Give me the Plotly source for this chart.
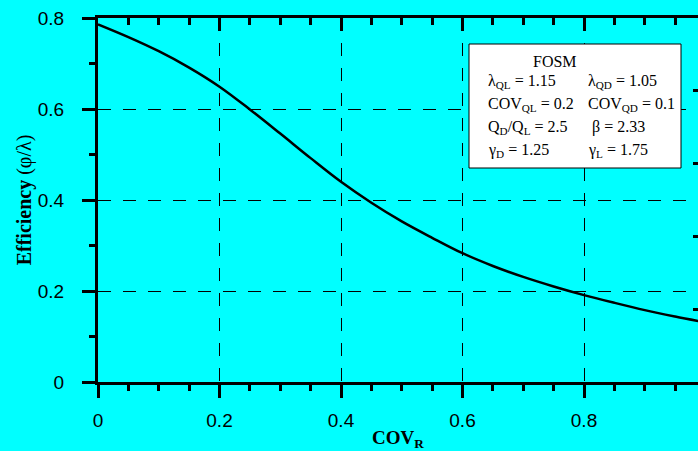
import plotly.graph_objects as go

# ---- data ----
cov_r = [0, 0.05, 0.1, 0.15, 0.2, 0.25, 0.3, 0.35, 0.4, 0.45, 0.5, 0.55,
         0.6, 0.65, 0.7, 0.75, 0.8, 0.85, 0.9, 0.95, 1.0]
efficiency = [0.786, 0.758, 0.727, 0.691, 0.649, 0.599, 0.546, 0.492, 0.440,
              0.394, 0.353, 0.317, 0.283, 0.255, 0.231, 0.210, 0.191, 0.174,
              0.158, 0.144, 0.131]

x_ticks = [0, 0.2, 0.4, 0.6, 0.8]
y_ticks = [0, 0.2, 0.4, 0.6, 0.8]
right_ticks = [0.16, 0.32, 0.48, 0.64]

box_title = "FOSM"
box_left = ["λ<sub>QL</sub> = 1.15", "COV<sub>QL</sub> = 0.2",
            "Q<sub>D</sub>/Q<sub>L</sub> = 2.5", "γ<sub>D</sub> = 1.25"]
box_right = ["λ<sub>QD</sub> = 1.05", "COV<sub>QD</sub> = 0.1",
             "β = 2.33", "γ<sub>L</sub> = 1.75"]

# ---- layout geometry ----
W, H = 698, 451
ML, MR, MT, MB = 98, 0, 18, 69
PW, PH = W - ML - MR, H - MT - MB
X_MAX = 600 / 607.5

def px(xpix):
    return (xpix - ML) / PW

def py(ypix):
    return (H - MB - ypix) / PH

CYAN = "#00FFFF"
TICKFONT = dict(family="Arial, Liberation Sans, sans-serif", size=19, color="black")
SERIF = "Times New Roman, Liberation Serif, serif"

fig = go.Figure()
fig.add_trace(go.Scatter(x=cov_r, y=efficiency, mode="lines",
                         line=dict(color="black", width=2.5, shape="spline", smoothing=1.0),
                         showlegend=False, hoverinfo="skip"))
# invisible trace to activate the extra axes
fig.add_trace(go.Scatter(x=[0], y=[0], xaxis="x2", yaxis="y2", mode="markers",
                         marker=dict(opacity=0), showlegend=False, hoverinfo="skip"))

fig.update_layout(
    width=W, height=H,
    margin=dict(l=ML, r=MR, t=MT, b=MB, pad=0),
    paper_bgcolor=CYAN, plot_bgcolor=CYAN,
    xaxis=dict(range=[0, X_MAX], tickvals=x_ticks, ticktext=["0", "0.2", "0.4", "0.6", "0.8"],
               ticks="outside", ticklen=13, tickwidth=3, tickcolor="black",
               minor=dict(dtick=0.05, tick0=0, ticks="outside", ticklen=6, tickwidth=3,
                          tickcolor="black", showgrid=False),
               showline=True, linewidth=3, linecolor="black",
               showgrid=True, gridcolor="black", gridwidth=1, griddash="13px,12px",
               zeroline=False, tickfont=TICKFONT, ticklabelstandoff=6,
               title=dict(text="<b>COV<sub>R</sub></b>",
                          font=dict(family=SERIF, size=19, color="black"), standoff=4)),
    xaxis2=dict(range=[0, X_MAX], overlaying="x", side="top", anchor="y",
                tickvals=x_ticks, ticks="inside", ticklen=13, tickwidth=3, tickcolor="black",
                minor=dict(dtick=0.05, tick0=0, ticks="inside", ticklen=7, tickwidth=3,
                           tickcolor="black", showgrid=False),
                showline=True, linewidth=3, linecolor="black",
                showticklabels=False, showgrid=False, zeroline=False),
    yaxis=dict(range=[0, 0.8], tickvals=y_ticks, ticktext=["0", "0.2", "0.4", "0.6", "0.8"],
               ticks="outside", ticklen=13, tickwidth=3, tickcolor="black",
               minor=dict(dtick=0.1, tick0=0, ticks="outside", ticklen=6, tickwidth=3,
                          tickcolor="black", showgrid=False),
               showline=True, linewidth=3, linecolor="black",
               showgrid=True, gridcolor="black", gridwidth=1, griddash="13px,12px",
               zeroline=False, tickfont=TICKFONT, ticklabelstandoff=14,
               title=dict(text="<b>Efficiency</b> (φ/λ)",
                          font=dict(family=SERIF, size=20, color="black"), standoff=1)),
    yaxis2=dict(range=[0, 0.8], overlaying="y", side="right", anchor="x",
                tickvals=right_ticks, ticks="inside", ticklen=5, tickwidth=3,
                tickcolor="black", showline=False, showticklabels=False,
                showgrid=False, zeroline=False),
)

# parameter box
fig.add_shape(type="rect", xref="paper", yref="paper",
              x0=px(469), x1=px(681), y0=py(168), y1=py(44),
              fillcolor="white", line=dict(color="black", width=1), layer="above")

TFONT = dict(family=SERIF, size=16, color="black")
fig.add_annotation(text=box_title, xref="paper", yref="paper", x=px(555), y=py(61),
                   xanchor="center", yanchor="middle", showarrow=False, font=TFONT)
rows_y = [81, 104, 127, 150]
for i, (lt, rt) in enumerate(zip(box_left, box_right)):
    fig.add_annotation(text=lt, xref="paper", yref="paper", x=px(486), y=py(rows_y[i]),
                       xanchor="left", yanchor="middle", showarrow=False, font=TFONT)
    fig.add_annotation(text=rt, xref="paper", yref="paper", x=px(586 if i != 2 else 590),
                       y=py(rows_y[i]), xanchor="left", yanchor="middle",
                       showarrow=False, font=TFONT)

fig.write_html("out.html")
